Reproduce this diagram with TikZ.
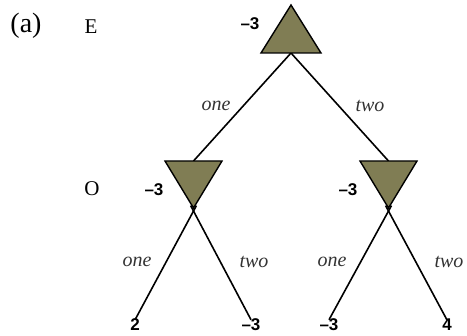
\documentclass[tikz,border=0pt]{standalone}
\usepackage{fontspec}
\setmainfont{Liberation Serif}
\newfontfamily\numfont{Liberation Sans}
\usetikzlibrary{calc}
\definecolor{trifill}{RGB}{128,125,84}
\begin{document}
\begin{tikzpicture}[x=1pt,y=-1pt,
  edge/.style={line width=1.6pt},
  tri/.style={fill=trifill,draw=black,line width=1.4pt,line join=miter},
  val/.style={font=\numfont\bfseries\fontsize{17}{17}\selectfont,inner sep=0pt},
  act/.style={font=\itshape\fontsize{20}{20}\selectfont,text=black!80,inner sep=0pt},
  lab/.style={font=\fontsize{21}{21}\selectfont,inner sep=0pt}]
\useasboundingbox (0,0) rectangle (467,336);
% node anchors
\coordinate (E) at (291,53);
\coordinate (OL) at (193.5,161);
\coordinate (OR) at (388.5,161);
\coordinate (XL) at (193.5,211);
\coordinate (XR) at (388.5,211);
% leaves
\node[val] (L1) at (135,325) {2};
\node[val] (L2) at (251,325) {–3};
\node[val] (L3) at (329,325) {–3};
\node[val] (L4) at (447,325) {4};
% connectors
\draw[edge] (E) -- (OL);
\draw[edge] (E) -- (OR);
\draw[edge] ([yshift=-1pt]L1.north) -- ($(L1.north)!1.05!(XL)$);
\draw[edge] ([yshift=-1pt]L2.north) -- ($(L2.north)!1.05!(XL)$);
\draw[edge] ([yshift=-1pt]L3.north) -- ($(L3.north)!1.05!(XR)$);
\draw[edge] ([yshift=-1pt]L4.north) -- ($(L4.north)!1.05!(XR)$);
% triangles
\draw[tri] (291,5) -- (321,53) -- (261,53) -- cycle;
\draw[tri] (165,161) -- (222,161) -- (193.5,208) -- cycle;
\draw[tri] (360,161) -- (417,161) -- (388.5,208) -- cycle;
% values
\node[val] (vE) at (250,24) {–3};
\node[val] (vOL) at (154,190) {–3};
\node[val] (vOR) at (348,190) {–3};
% action labels
\node[act] (a1) at (216,106) {one};
\node[act] (a2) at (370,106) {two};
\node[act] (a3) at (137,262) {one};
\node[act] (a4) at (254,262) {two};
\node[act] (a5) at (332,262) {one};
\node[act] (a6) at (449,262) {two};
% row labels
\node[lab,font=\fontsize{28}{28}\selectfont] (pa) at (26,26) {(a)};
\node[lab] (pE) at (91,27) {E};
\node[lab] (pO) at (92,189) {O};
\end{tikzpicture}
\end{document}
